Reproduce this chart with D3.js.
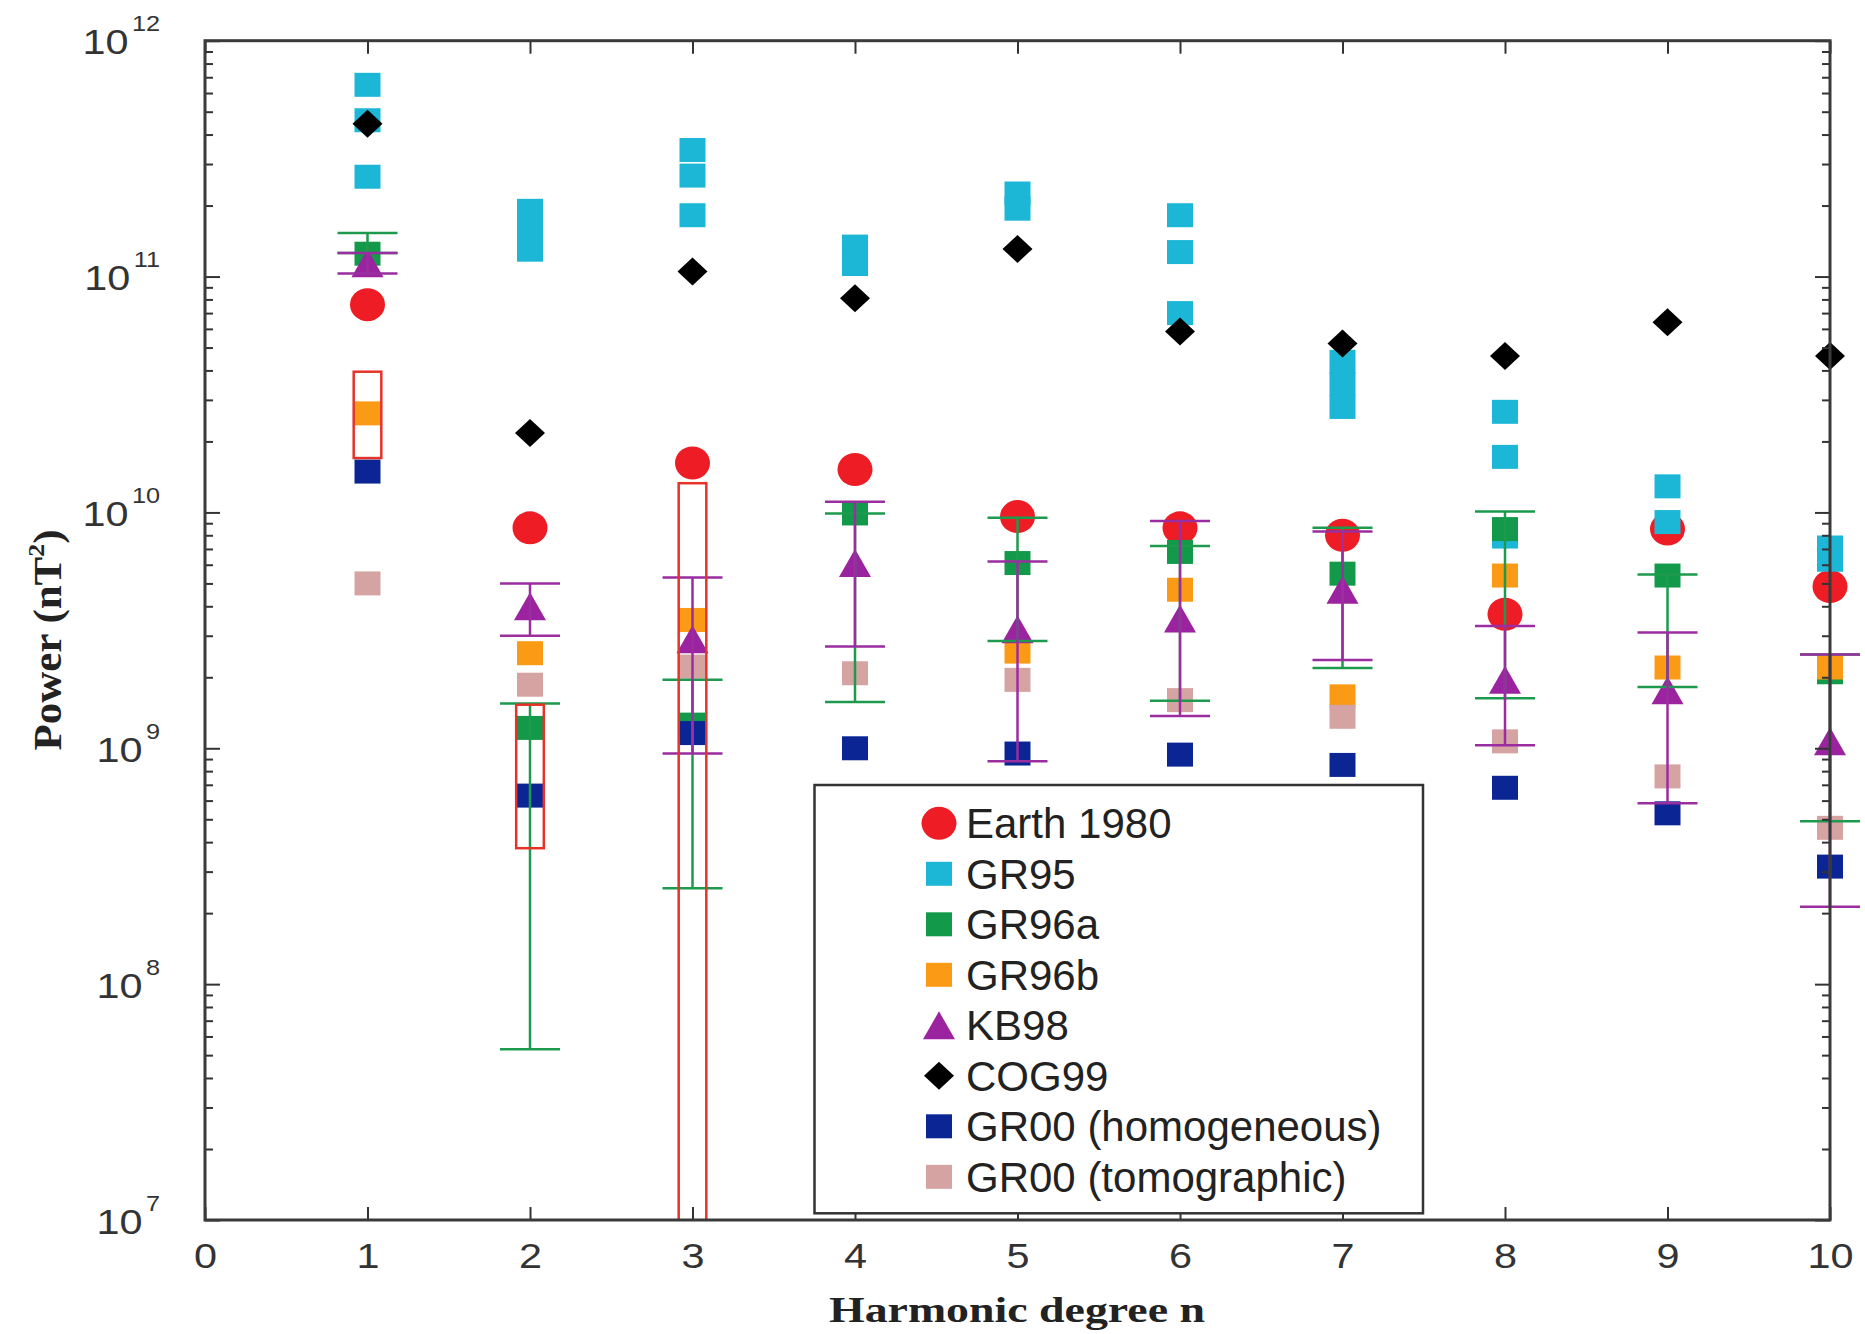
<!DOCTYPE html>
<html><head><meta charset="utf-8">
<script src="https://cdn.jsdelivr.net/npm/d3@7"></script>
<style>
html,body{margin:0;padding:0;background:#fff;}
svg{display:block;}
</style>
</head><body>
<svg id="chart" width="1865" height="1334"></svg>
<script>
// ---------------- data ----------------
const degrees = [1, 2, 3, 4, 5, 6, 7, 8, 9, 10];
const xTicks = [0, 1, 2, 3, 4, 5, 6, 7, 8, 9, 10];
const yTickExponents = [7, 8, 9, 10, 11, 12];

const earth1980 = [7.6e10, 8.6e9, 1.62e10, 1.52e10, 9.6e9, 8.6e9, 8.0e9, 3.7e9, 8.5e9, 4.85e9];
const gr95 = [
  [6.5e11, 4.6e11, 2.65e11],
  [1.9e11, 1.58e11, 1.3e11],
  [3.44e11, 2.68e11, 1.82e11],
  [1.34e11, 1.13e11],
  [2.25e11, 1.94e11],
  [1.82e11, 1.27e11, 7.0e10],
  [4.35e10, 3.5e10, 2.8e10],
  [2.67e10, 1.72e10, 7.9e9],
  [1.29e10, 9.1e9],
  [7.1e9, 6.3e9]
];
const gr96a   = [1.25e11, 1.22e9, 1.26e9, 9.9e9, 6.1e9, 6.8e9, 5.5e9, 8.5e9, 5.4e9, 2.1e9];
const gr96aHi = [1.53e11, 1.55e9, 1.95e9, 9.9e9, 9.5e9, 7.2e9, 8.6e9, 1.01e10, 5.45e9, 2.5e9];
const gr96aLo = [1.26e11, 5.3e7, 2.55e8, 1.57e9, 2.85e9, 1.59e9, 2.19e9, 1.63e9, 1.82e9, 4.9e8];
const gr96b   = [2.63e10, 2.53e9, 3.5e9, null, 2.57e9, 4.7e9, 1.66e9, 5.4e9, 2.2e9, 2.2e9];
const kb98    = [1.14e11, 4.0e9, 2.9e9, 6.1e9, 3.2e9, 3.55e9, 4.7e9, 1.95e9, 1.76e9, 1.07e9];
const kb98Hi  = [1.26e11, 5.0e9, 5.3e9, 1.11e10, 6.2e9, 9.2e9, 8.3e9, 3.3e9, 3.1e9, 2.5e9];
const kb98Lo  = [1.03e11, 3.0e9, 9.5e8, 2.7e9, 8.8e8, 1.37e9, 2.37e9, 1.03e9, 5.85e8, 2.13e8];
const cog99   = [4.44e11, 2.17e10, 1.05e11, 8.1e10, 1.31e11, 5.85e10, 5.2e10, 4.6e10, 6.4e10, 4.6e10];
const gr00hom = [1.49e10, 6.3e8, 1.16e9, 1.0e9, 9.5e8, 9.4e8, 8.5e8, 6.8e8, 5.3e8, 3.15e8];
const gr00tom = [5.0e9, 1.86e9, 2.22e9, 2.08e9, 1.95e9, 1.6e9, 1.36e9, 1.07e9, 7.6e8, 4.6e8];
// red open boxes (ranges) at low degrees
const rangeDegrees = [1, 2, 3];
const rangeHi = [3.95e10, 1.53e9, 1.33e10];
const rangeLo = [1.7e10, 3.77e8, 1e6];

// ---------------- setup ----------------
const W = 1865, H = 1334;
const PL = 205, PR = 1830, PT = 40.7, PB = 1220;
const svg = d3.select("#chart");
svg.append("rect").attr("width", W).attr("height", H).attr("fill", "#fff");

const x = d3.scaleLinear().domain([0, 10]).range([PL, PR]);
const y = d3.scaleLog().domain([1e7, 1e12]).range([PB, PT]);

svg.append("clipPath").attr("id", "plotclip").append("rect")
  .attr("x", PL).attr("y", PT).attr("width", PR - PL).attr("height", PB - PT);

const shapePath = {
  circle: "M-17.5,0a17.5,16.5 0 1,0 35,0a17.5,16.5 0 1,0 -35,0Z",
  square: "M-13,-12H13V12H-13Z",
  triangle: "M0,-14L16,14H-16Z",
  diamond: "M0,-14L15,0L0,14L-15,0Z"
};

const flat = arr => degrees.map((n, i) => ({ n, v: arr[i] })).filter(d => d.v != null);
const series = [
  { name: "Earth 1980", type: "circle", color: "#ee1c24", data: flat(earth1980) },
  { name: "GR95", type: "square", color: "#1cb6d6", data: gr95.flatMap((vals, i) => vals.map(v => ({ n: degrees[i], v }))) },
  { name: "GR96a", type: "square", color: "#12994a", data: flat(gr96a) },
  { name: "GR96b", type: "square", color: "#fb9a14", data: flat(gr96b) },
  { name: "KB98", type: "triangle", color: "#9b239f", data: flat(kb98) },
  { name: "COG99", type: "diamond", color: "#000000", data: flat(cog99) },
  { name: "GR00 (homogeneous)", type: "square", color: "#0b2595", data: flat(gr00hom) },
  { name: "GR00 (tomographic)", type: "square", color: "#d6a3a3", data: flat(gr00tom) }
];

// ---------------- markers ----------------
const gMarks = svg.append("g");
series.forEach(s => {
  gMarks.append("g").selectAll("path").data(s.data).join("path")
    .attr("d", shapePath[s.type])
    .attr("transform", d => `translate(${x(d.n)},${y(d.v)})`)
    .attr("fill", s.color);
});

// ---------------- error bars ----------------
function errorBars(lo, hi, color) {
  const data = degrees.map((n, i) => ({ n, lo: lo[i], hi: hi[i] }));
  svg.append("g").attr("fill", "none").attr("stroke", color).attr("stroke-width", 2.5)
    .selectAll("path").data(data).join("path")
    .attr("d", d => {
      const cx = x(d.n), y1 = y(d.lo), y2 = y(d.hi);
      return `M${cx},${y1}V${y2}M${cx - 30},${y1}h60M${cx - 30},${y2}h60`;
    });
}
errorBars(gr96aLo, gr96aHi, "#1d9a4e");
errorBars(kb98Lo, kb98Hi, "#9a2ea0");

// ---------------- red open boxes ----------------
const boxW = x(0.17) - x(0);
svg.append("g").attr("clip-path", "url(#plotclip)")
  .selectAll("rect").data(rangeDegrees.map((n, i) => ({ n, lo: rangeLo[i], hi: rangeHi[i] })))
  .join("rect")
  .attr("x", d => x(d.n) - boxW / 2)
  .attr("y", d => y(d.hi))
  .attr("width", boxW)
  .attr("height", d => y(d.lo) - y(d.hi))
  .attr("fill", "none").attr("stroke", "#e5332a").attr("stroke-width", 2.5);

// ---------------- axes ----------------
const tickColor = "#333";
const styleAxis = g => {
  g.attr("font-size", null).attr("font-family", null);
  g.select(".domain").remove();
  g.selectAll(".tick line").attr("stroke", tickColor).attr("stroke-width", 2);
};

const yMajor = yTickExponents.map(e => Math.pow(10, e));
const yMinor = [];
for (let e = 7; e < 12; e++) for (let k = 2; k <= 9; k++) yMinor.push(k * Math.pow(10, e));

// bottom
svg.append("g").attr("transform", `translate(0,${PB})`)
  .call(d3.axisBottom(x).tickValues(xTicks).tickSizeInner(-13).tickSizeOuter(0).tickPadding(22).tickFormat(d3.format("d")))
  .call(styleAxis)
  .call(g => g.selectAll(".tick text")
    .attr("font-family", "'Liberation Sans', Arial, sans-serif")
    .attr("font-size", 36).attr("fill", "#333")
    .attr("transform", "scale(1.15,1)"));
// top
svg.append("g").attr("transform", `translate(0,${PT})`)
  .call(d3.axisTop(x).tickValues(xTicks).tickSizeInner(-13).tickSizeOuter(0).tickFormat(""))
  .call(styleAxis);
// left major with labels
const leftMajor = svg.append("g").attr("transform", `translate(${PL},0)`)
  .call(d3.axisLeft(y).tickValues(yMajor).tickSizeInner(-15).tickSizeOuter(0).tickFormat(""))
  .call(styleAxis);
leftMajor.selectAll(".tick text").remove();
leftMajor.selectAll(".tick").append("text")
  .attr("font-family", "'Liberation Sans', Arial, sans-serif")
  .attr("fill", "#333")
  .attr("text-anchor", "end")
  .attr("transform", "translate(-45,0) scale(1.15,1)")
  .each(function (d) {
    const t = d3.select(this);
    const e = Math.round(Math.log10(d));
    t.append("tspan").attr("font-size", 36).attr("dy", "13").text("10");
    t.append("tspan").attr("font-size", 22).attr("dy", "-23").attr("dx", "3").text(e);
  });
// left minor
svg.append("g").attr("transform", `translate(${PL},0)`)
  .call(d3.axisLeft(y).tickValues(yMinor).tickSizeInner(-8).tickSizeOuter(0).tickFormat(""))
  .call(styleAxis);
// right major / minor
svg.append("g").attr("transform", `translate(${PR},0)`)
  .call(d3.axisRight(y).tickValues(yMajor).tickSizeInner(-15).tickSizeOuter(0).tickFormat(""))
  .call(styleAxis);
svg.append("g").attr("transform", `translate(${PR},0)`)
  .call(d3.axisRight(y).tickValues(yMinor).tickSizeInner(-8).tickSizeOuter(0).tickFormat(""))
  .call(styleAxis);

// frame
svg.append("rect").attr("x", PL).attr("y", PT).attr("width", PR - PL).attr("height", PB - PT)
  .attr("fill", "none").attr("stroke", "#3a3a3a").attr("stroke-width", 3);

// axis titles
svg.append("text")
  .attr("x", 1017).attr("y", 1322)
  .attr("text-anchor", "middle")
  .attr("font-family", "'Liberation Serif', 'Times New Roman', serif")
  .attr("font-weight", "bold").attr("font-size", 36).attr("fill", "#222")
  .attr("textLength", 376).attr("lengthAdjust", "spacingAndGlyphs")
  .text("Harmonic degree n");

const yt = svg.append("text")
  .attr("transform", "translate(61,640) rotate(-90)")
  .attr("text-anchor", "middle")
  .attr("font-family", "'Liberation Serif', 'Times New Roman', serif")
  .attr("font-weight", "bold").attr("font-size", 40).attr("fill", "#222")
  .attr("textLength", 221).attr("lengthAdjust", "spacingAndGlyphs");
yt.append("tspan").text("Power (nT");
yt.append("tspan").attr("font-size", 24).attr("dy", -17).text("2");
yt.append("tspan").attr("dy", 17).text(")");

// ---------------- legend ----------------
const lg = svg.append("g");
lg.append("rect").attr("x", 814.5).attr("y", 785).attr("width", 608.5).attr("height", 428.3)
  .attr("fill", "#fff").attr("stroke", "#333").attr("stroke-width", 2.5);
const rows = lg.selectAll("g.row").data(series).join("g")
  .attr("class", "row")
  .attr("transform", (d, i) => `translate(939,${823.3 + i * 50.5})`);
rows.append("path").attr("d", d => shapePath[d.type]).attr("fill", d => d.color);
rows.append("text")
  .attr("x", 27).attr("dy", "0.36em")
  .attr("font-family", "'Liberation Sans', Arial, sans-serif")
  .attr("font-size", 42).attr("fill", "#222")
  .text(d => d.name);
</script>
</body></html>
